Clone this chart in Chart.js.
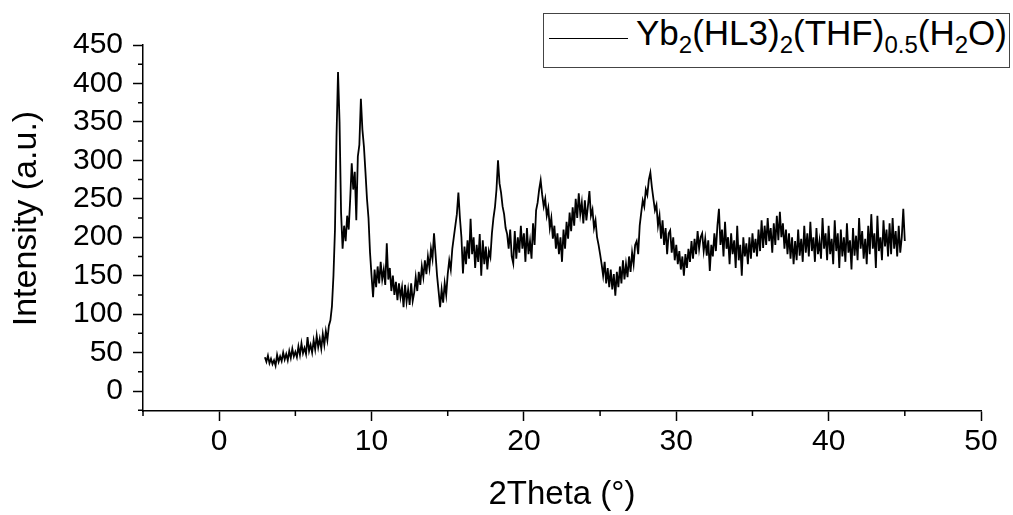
<!DOCTYPE html>
<html>
<head>
<meta charset="utf-8">
<script src="https://cdn.jsdelivr.net/npm/chart.js@4.4.0/dist/chart.umd.min.js"></script>
<style>
    body { margin: 0; background: #fff; }
    #wrap { position: relative; width: 1013px; height: 515px; }
    #legend {
        position: absolute; left: 543px; top: 13px; width: 465px; height: 53px;
        border: 1px solid #444; background: #fff;
        font-family: "Liberation Sans", Arial, sans-serif; font-size: 35px; color: #000;
    }
    #legend .sample { position: absolute; left: 5px; top: 24px; width: 79px; border-top: 1.2px solid #000; }
    #legend .txt { position: absolute; left: 92px; top: 2px; white-space: nowrap; line-height: 34px; }
    #legend sub { font-size: 24px; vertical-align: -8px; line-height: 0; }
</style>
</head>
<body>
<div id="wrap">
    <canvas id="chart" width="1013" height="515"></canvas>
    <div id="legend"><span class="sample"></span><span class="txt">Yb<sub>2</sub>(HL3)<sub>2</sub>(THF)<sub>0.5</sub>(H<sub>2</sub>O)</span></div>
</div>
<script>
// 2Theta grid of the scan
const thetaStart = 3.0
const thetaStep = 0.1

// intensity, one row per degree (x.0 ... x.9)
const intensityLow = [
    44,38,46,36,42,35,40,33,47,38,
    45,39,50,41,48,40,52,43,55,45,
    51,44,58,47,62,49,56,48,70,52,
    60,50,66,54,72,57,68,55,74,60,
    78,66,85,92,110,150,210,330,415,350,
    232,185,215,195,228,210,250,296,262,285,
    222,305,320,380,340,318,285,250,225,180
]
const intensityMid = [
    150,122,158,135,162,140,168,145,158,138,
    192,145,160,130,150,125,142,118,140,122,
    135,109,138,116,132,112,140,117,128,148,
    130,155,138,162,148,170,152,175,160,185,
    172,205,178,150,130,109,132,115,140,125,
    152,170,158,185,200,215,230,258,225,200,
    153,188,165,196,172,224,178,200,160,190,
    168,204,150,196,165,188,158,182,174,205,
    225,239,262,300,270,258,240,230,212,204,
    185,210,175,166,208,172,200,180,215,185,
    205,168,212,178,195,172,218,190,235,245,
    262,274,255,240,250,228,238,212,225,198,
    215,185,205,178,200,168,210,185,220,198,
    232,208,239,215,250,225,257,230,245,218,
    248,222,240,260,228,236,212,222,200,190
]
const intensityHigh = [
    178,165,150,168,140,160,135,158,132,152,
    124,155,135,162,140,170,145,165,148,175,
    155,180,165,190,195,178,215,232,248,240,
    262,255,275,284,265,250,235,242,215,228,
    198,222,190,212,178,205,209,180,200,170,
    190,165,182,158,175,150,178,160,185,168,
    195,172,198,178,208,185,200,205,182,198,
    176,196,156,190,175,205,182,215,237,190,
    210,175,220,185,200,165,205,178,196,160,
    215,170,190,150,200,175,192,165,200,172,
    205,180,198,175,210,182,222,186,215,190,
    225,195,212,180,218,190,228,196,233,200,
    218,185,210,178,205,172,200,165,195,170,
    210,176,198,168,215,180,205,175,220,182,
    200,168,212,178,195,172,225,185,205,170,
    215,178,198,165,222,182,205,160,210,175,
    200,168,218,180,196,158,212,176,202,170,
    225,185,208,172,198,165,215,178,230,185,
    205,160,228,182,200,170,222,188,210,175,
    218,178,225,185,208,175,215,180,200,237,
    195
]

const xTicks = [0, 10, 20, 30, 40, 50]
const xMinorTicks = [-5, 5, 15, 25, 35, 45]
const yTicks = [0, 50, 100, 150, 200, 250, 300, 350, 400, 450]
const yMinorTicks = [-25, 25, 75, 125, 175, 225, 275, 325, 375, 425]

const intensity = intensityLow.concat(intensityMid, intensityHigh)
const points = intensity.map((v, i) => ({ x: +(thetaStart + i * thetaStep).toFixed(2), y: v }))

const fontFamily = '"Liberation Sans", Arial, sans-serif'

// short outward ticks between the labelled ones
const minorTicks = {
    id: 'minorTicks',
    afterDraw(chart) {
        const c = chart.ctx
        const xs = chart.scales.x
        const ys = chart.scales.y
        c.save()
        c.strokeStyle = '#000'
        c.lineWidth = 1.5
        c.beginPath()
        xMinorTicks.forEach(v => {
            const px = xs.getPixelForValue(v)
            c.moveTo(px, xs.top)
            c.lineTo(px, xs.top + 5)
        })
        yMinorTicks.forEach(v => {
            const py = ys.getPixelForValue(v)
            c.moveTo(ys.right, py)
            c.lineTo(ys.right - 5, py)
        })
        c.stroke()
        c.restore()
    }
}

const axisCommon = {
    border: { display: true, color: '#000', width: 1.5 },
    grid: { display: true, drawOnChartArea: false, drawTicks: true, tickLength: 10, tickColor: '#000', tickWidth: 1.5 },
}

const ctx = document.getElementById('chart')
const myChart = new Chart(ctx, {
    type: 'line',
    data: {
        datasets: [{
            label: 'Yb2(HL3)2(THF)0.5(H2O)',
            data: points,
            borderColor: '#000',
            backgroundColor: 'transparent',
            borderWidth: 1.8,
            pointRadius: 0,
            tension: 0,
        }]
    },
    options: {
        responsive: false,
        animation: false,
        devicePixelRatio: 1,
        layout: { padding: { top: 45, right: 32, left: 0, bottom: 0 } },
        plugins: { legend: { display: false }, tooltip: { enabled: false } },
        scales: {
            x: {
                ...axisCommon,
                type: 'linear',
                min: -5,
                max: 50,
                afterBuildTicks: s => { s.ticks = xTicks.map(v => ({ value: v })) },
                afterFit: s => { s.height = 104 },
                ticks: { color: '#000', padding: 3, maxRotation: 0, font: { family: fontFamily, size: 30 } },
                title: { display: true, text: '2Theta (°)', color: '#000', padding: { top: 0, bottom: 0 }, font: { family: fontFamily, size: 33 } }
            },
            y: {
                ...axisCommon,
                min: -26,
                max: 450,
                afterBuildTicks: s => { s.ticks = yTicks.map(v => ({ value: v })) },
                afterFit: s => { s.width = 143 },
                ticks: { color: '#000', padding: 10, font: { family: fontFamily, size: 30 } },
                title: { display: true, text: '  Intensity (a.u.)', color: '#000', padding: { top: 6, bottom: 0 }, font: { family: fontFamily, size: 34 } }
            }
        }
    },
    plugins: [minorTicks]
});
</script>
</body>
</html>
